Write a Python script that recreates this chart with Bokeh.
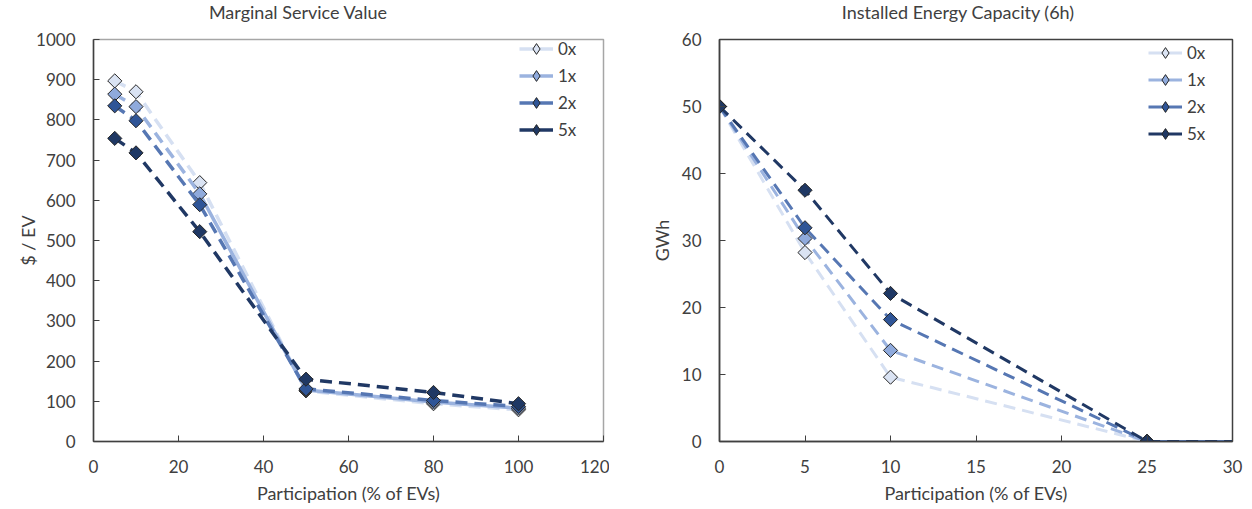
import math
from bokeh.plotting import figure
from bokeh.models import Range1d, FixedTicker, Legend, LegendItem, ColumnDataSource, Div
from bokeh.layouts import row, column
from bokeh.embed import file_html
from bokeh.resources import INLINE

FONT = "Lato"
TXT = "#404040"

series_names = ["0x", "1x", "2x", "5x"]
line_colors = ["#d6e0f2", "#9bb3df", "#5677b3", "#203864"]
fill_colors = ["#dae3f3", "#8faadc", "#2f5597", "#1f3864"]

# Left chart: Marginal Service Value ($ / EV)
msv_title = "Marginal Service Value"
msv_x = [5, 10, 25, 50, 80, 100]
msv_0x = [897, 870, 644, 126, 94, 79]
msv_1x = [864, 833, 616, 128, 98, 83]
msv_2x = [835, 798, 589, 131, 102, 87]
msv_5x = [754, 718, 522, 155, 122, 94]
msv_xticks = [0, 20, 40, 60, 80, 100, 120]
msv_yticks = [0, 100, 200, 300, 400, 500, 600, 700, 800, 900, 1000]

# Right chart: Installed Energy Capacity (6h) (GWh)
cap_title = "Installed Energy Capacity (6h)"
cap_x = [0, 5, 10, 25, 30]
cap_0x = [50, 28.2, 9.6, 0, 0]
cap_1x = [50, 30.3, 13.6, 0, 0]
cap_2x = [50, 31.9, 18.2, 0, 0]
cap_5x = [50, 37.5, 22.1, 0, 0]
cap_xticks = [0, 5, 10, 15, 20, 25, 30]
cap_yticks = [0, 10, 20, 30, 40, 50, 60]

TITLE_H = 24
FIG_H = 509 - TITLE_H
W1 = 609
W2 = 1252 - W1


def make_title(w, text, left):
    html = ('<div style="margin-left:%dpx;width:300px;text-align:center;white-space:nowrap;'
            'font-family:Lato;font-size:18px;line-height:%dpx;color:%s;">%s</div>'
            % (left, TITLE_H, TXT, text))
    return Div(text=html, width=w, height=TITLE_H, margin=(0, 0, 0, 0))


def make_fig(w, xr, yr, xt, yt, ylabel, bl, br, bt, outline, ylabel_standoff):
    p = figure(width=w, height=FIG_H, x_range=Range1d(*xr), y_range=Range1d(*yr),
               output_backend="svg", toolbar_location=None,
               min_border_left=bl, min_border_right=br, min_border_top=bt, min_border_bottom=68)
    p.background_fill_color = "white"
    p.border_fill_color = "white"
    p.xgrid.visible = False
    p.ygrid.visible = False
    p.outline_line_color = outline
    p.outline_line_width = 1.5
    p.xaxis.ticker = FixedTicker(ticks=xt)
    p.yaxis.ticker = FixedTicker(ticks=yt)
    for ax in (p.xaxis[0], p.yaxis[0]):
        ax.axis_line_color = "#404040"
        ax.axis_line_width = 1.5
        ax.major_tick_line_color = "#404040"
        ax.major_tick_in = 6
        ax.major_tick_out = 0
        ax.minor_tick_line_color = None
        ax.major_label_text_font = FONT
        ax.major_label_text_font_size = "17px"
        ax.major_label_text_color = TXT
        ax.axis_label_text_font = FONT
        ax.axis_label_text_font_size = "18px"
        ax.axis_label_text_font_style = "normal"
        ax.axis_label_text_color = TXT
    p.xaxis.major_label_standoff = 18
    p.yaxis.major_label_standoff = 18
    p.xaxis.axis_label = "Participation (% of EVs)"
    p.xaxis.axis_label_standoff = 6
    p.yaxis.axis_label = ylabel
    p.yaxis.axis_label_standoff = ylabel_standoff
    return p


def add_legend(p, loc, lw):
    items = []
    for i, name in enumerate(series_names):
        src = ColumnDataSource(dict(x=[float("nan")], y=[float("nan")]))
        lr = p.line("x", "y", source=src, line_color=line_colors[i], line_width=lw)
        sr = p.scatter("x", "y", source=src, marker="diamond", size=12,
                       fill_color=fill_colors[i], line_color="#262626", line_width=1)
        items.append(LegendItem(label=name, renderers=[lr, sr]))
    legend = Legend(items=items, location=loc, glyph_width=34, glyph_height=27, spacing=0,
                    padding=0, margin=0, label_standoff=5, label_text_font=FONT,
                    label_text_font_size="17px", label_text_color=TXT,
                    border_line_alpha=0, background_fill_alpha=0)
    p.add_layout(legend)


DASH = "12 7"

# ---- left figure
p1 = make_fig(W1, (0, 120), (0, 1000), msv_xticks, msv_yticks,
              "$ / EV", 93, W1 - 603, 37 - TITLE_H, "#a6a6a6", -6)
msv_series = [msv_0x, msv_1x, msv_2x, msv_5x]
for i, ys in enumerate(msv_series):
    if i == 1:
        p1.line(msv_x[:3], ys[:3], line_color=line_colors[i], line_width=3.5, line_dash=DASH)
        p1.line(msv_x[2:], ys[2:], line_color=line_colors[i], line_width=3.5)
    else:
        p1.line(msv_x, ys, line_color=line_colors[i], line_width=3.5, line_dash=DASH)
    p1.scatter(msv_x, ys, marker="square", angle=math.pi / 4, size=10,
               fill_color=fill_colors[i], line_color="#262626", line_width=1)
add_legend(p1, (426, 298), 3.5)

# ---- right figure
p2 = make_fig(W2, (0, 30), (0, 60), cap_xticks, cap_yticks,
              "GWh", 719 - W1, 20, 39 - TITLE_H, "#404040", 6)
cap_series = [cap_0x, cap_1x, cap_2x, cap_5x]
for i, ys in enumerate(cap_series):
    p2.line(cap_x, ys, line_color=line_colors[i], line_width=3, line_dash=DASH)
    p2.scatter(cap_x[:-1], ys[:-1], marker="square", angle=math.pi / 4, size=10,
               fill_color=fill_colors[i], line_color="#262626", line_width=1)
add_legend(p2, (429, 294), 3)

t1 = make_title(W1, msv_title, 148)
t2 = make_title(W2, cap_title, 958 - W1 - 150)

layout = column(row(t1, t2, spacing=0), row(p1, p2, spacing=0), spacing=0)
open("out.html", "w").write(file_html(layout, INLINE))
